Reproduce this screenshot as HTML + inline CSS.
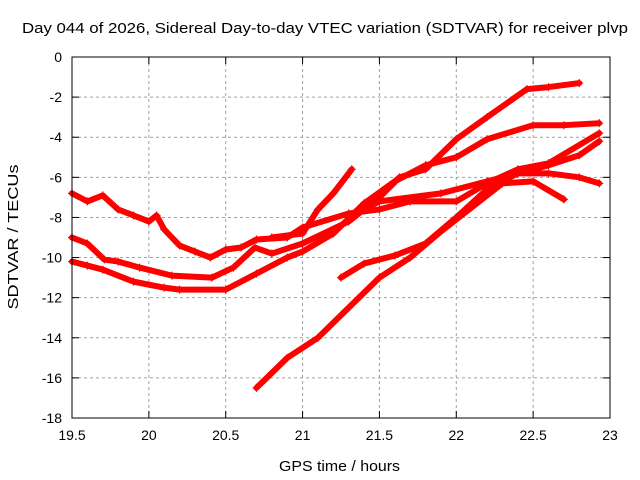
<!DOCTYPE html>
<html><head><meta charset="utf-8"><style>
body{margin:0;background:#fff}
svg{display:block;font-family:"Liberation Sans",sans-serif}
</style></head><body>
<svg id="chart" width="640" height="480" viewBox="0 0 640 480">
<rect width="640" height="480" fill="#fff"/>
<text x="22" y="33" font-size="15" textLength="606" lengthAdjust="spacingAndGlyphs">Day 044 of 2026, Sidereal Day-to-day VTEC variation (SDTVAR) for receiver plvp</text>
<g id="grid"></g>
<g id="series"></g>
<rect x="72" y="57" width="538" height="361" fill="none" stroke="#000" stroke-width="1"/>
<g id="ticks"></g>
<text x="279" y="471" font-size="15" textLength="121" lengthAdjust="spacingAndGlyphs">GPS time / hours</text>
<text x="18" y="237" font-size="15" text-anchor="middle" textLength="145" lengthAdjust="spacingAndGlyphs" transform="rotate(-90 18 237)">SDTVAR / TECUs</text>
</svg>
<script>
const xTicks=[19.5,20,20.5,21,21.5,22,22.5,23];
const xTickLabels=["19.5","20","20.5","21","21.5","22","22.5","23"];
const yTicks=[0,-2,-4,-6,-8,-10,-12,-14,-16,-18];
const yTickLabels=["0","-2","-4","-6","-8","-10","-12","-14","-16","-18"];
const trackAHours=[19.5,19.6,19.7,19.8,19.9,20.0,20.05,20.1,20.2,20.3,20.4,20.5,20.6,20.7,20.9,21.0,21.3,21.5,21.7,22.0,22.2,22.4,22.6,22.93];
const trackAValues=[-6.8,-7.2,-6.9,-7.6,-7.9,-8.2,-7.9,-8.6,-9.4,-9.7,-10.0,-9.6,-9.5,-9.1,-9.0,-8.5,-7.8,-7.6,-7.2,-7.2,-6.3,-5.6,-5.3,-3.8];
const trackCHours=[19.5,19.6,19.71,19.8,19.94,20.15,20.41,20.55,20.69,20.8,21.0,21.3,21.5,21.63,21.8,22.0,22.2,22.46,22.6,22.8];
const trackCValues=[-9.0,-9.3,-10.1,-10.2,-10.5,-10.9,-11.0,-10.5,-9.5,-9.8,-9.3,-8.2,-7.0,-6.0,-5.6,-4.1,-3.0,-1.6,-1.5,-1.3];
const trackDHours=[19.5,19.6,19.7,19.9,20.1,20.2,20.5,20.7,20.9,21.0,21.2,21.4,21.6,21.8,22.0,22.2,22.5,22.7,22.93];
const trackDValues=[-10.2,-10.4,-10.6,-11.2,-11.5,-11.6,-11.6,-10.8,-10.0,-9.7,-8.8,-7.3,-6.2,-5.4,-5.0,-4.1,-3.4,-3.4,-3.3];
const trackEHours=[20.7,20.9,21.1,21.3,21.5,21.7,21.9,22.1,22.3,22.5,22.7];
const trackEValues=[-16.5,-15.0,-14.0,-12.5,-11.0,-10.0,-8.7,-7.5,-6.3,-6.2,-7.1];
const trackFHours=[21.25,21.4,21.6,21.8,22.0,22.2,22.4,22.6,22.8,22.93];
const trackFValues=[-11.0,-10.3,-9.9,-9.3,-8.0,-6.6,-5.8,-5.4,-4.9,-4.2];
const trackGHours=[20.8,21.0,21.1,21.2,21.32];
const trackGValues=[-9.0,-8.8,-7.6,-6.8,-5.6];
const trackHHours=[21.3,21.5,21.9,22.2,22.4,22.6,22.8,22.93];
const trackHValues=[-8.0,-7.2,-6.8,-6.2,-5.8,-5.8,-6.0,-6.3];
const tracks=[[trackAHours,trackAValues],[trackCHours,trackCValues],[trackDHours,trackDValues],[trackEHours,trackEValues],[trackFHours,trackFValues],[trackGHours,trackGValues],[trackHHours,trackHValues]];
const NS="http://www.w3.org/2000/svg";
const X0=72,X1=610,Y0=57,Y1=418;
function xs(h){return X0+(h-19.5)/(23-19.5)*(X1-X0);}
function ys(v){return Y0+(0-v)/(18)*(Y1-Y0);}
function mk(tag,attrs,parent){const e=document.createElementNS(NS,tag);for(const k in attrs)e.setAttribute(k,attrs[k]);parent.appendChild(e);return e;}
const grid=document.getElementById('grid'),ticks=document.getElementById('ticks'),ser=document.getElementById('series');
xTicks.forEach((t,i)=>{const x=xs(t);
 if(i>0&&i<xTicks.length-1){const g=mk('line',{x1:x,x2:x,y1:Y0,y2:Y1,stroke:'#a0a0a0','stroke-dasharray':'3,3'},grid);
 
 }
 mk('line',{x1:x,x2:x,y1:Y1,y2:Y1-7,stroke:'#000'},ticks);mk('line',{x1:x,x2:x,y1:Y0,y2:Y0+7,stroke:'#000'},ticks);
 const tx=mk('text',{x:x,y:Y1+22,'font-size':14,'text-anchor':'middle'},ticks);tx.textContent=xTickLabels[i];
 
 });
yTicks.forEach((t,i)=>{const y=ys(t);
 if(i>0&&i<yTicks.length-1){const g=mk('line',{x1:X0,x2:X1,y1:y,y2:y,stroke:'#a0a0a0','stroke-dasharray':'3,3'},grid);
 
 }
 mk('line',{x1:X0,x2:X0+7,y1:y,y2:y,stroke:'#000'},ticks);mk('line',{x1:X1,x2:X1-7,y1:y,y2:y,stroke:'#000'},ticks);
 const tx=mk('text',{x:X0-10,y:y+5,'font-size':14,'text-anchor':'end'},ticks);tx.textContent=yTickLabels[i];
 
 });
tracks.forEach((tr,k)=>{const [hs,vs]=tr;
 const pts=hs.map((h,i)=>xs(h)+','+ys(vs[i])).join(' ');
 const pl=mk('polyline',{points:pts,fill:'none',stroke:'#ff0000','stroke-width':6,'stroke-linejoin':'round','stroke-linecap':'round'},ser);
 
 
 hs.forEach((h,i)=>{const x=xs(h),y=ys(vs[i]);
  const p=mk('path',{d:`M${x-4},${y}H${x+4}M${x},${y-4}V${y+4}`,stroke:'#ff0000','stroke-width':1.2},ser);
  
  });});
</script>
</body></html>
